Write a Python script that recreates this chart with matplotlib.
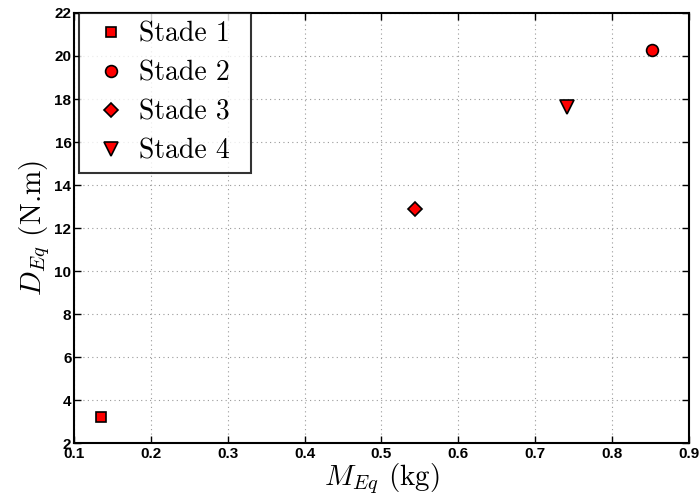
import matplotlib
matplotlib.use("Agg")
import matplotlib.pyplot as plt

plt.rcParams['mathtext.fontset'] = 'cm'

labels = ["Stade 1", "Stade 2", "Stade 3", "Stade 4"]
masse = [0.135, 0.852, 0.543, 0.742]
moment = [3.2, 20.3, 12.9, 17.65]
marqueurs = ["s", "o", "D", "v"]
tailles = [7, 8.5, 7, 10.5]

fig = plt.figure(figsize=(7, 4.98), dpi=100)
ax = fig.add_axes([0.106, 0.110, 0.878, 0.864])

for x, y, m, s, lab in zip(masse, moment, marqueurs, tailles, labels):
    ax.plot(x, y, linestyle="none", marker=m, markersize=s,
            markerfacecolor="red", markeredgecolor="black",
            markeredgewidth=1.2, label=lab)

ax.set_xlim(0.1, 0.9)
ax.set_ylim(2, 22)
ax.set_xticks([0.1, 0.2, 0.3, 0.4, 0.5, 0.6, 0.7, 0.8, 0.9])
ax.set_yticks(range(2, 23, 2))
ax.set_xticklabels(["0.1", "0.2", "0.3", "0.4", "0.5", "0.6", "0.7", "0.8", "0.9"])
ax.set_yticklabels([str(v) for v in range(2, 23, 2)])
for t in ax.get_xticklabels() + ax.get_yticklabels():
    t.set_fontweight("bold")
    t.set_fontsize(11)
    t.set_family("Liberation Sans")

ax.tick_params(direction="in", top=True, right=True, length=5, width=1, pad=3)
ax.tick_params(axis="y", pad=2)
ax.grid(True, linestyle=(0, (1, 3)), color="#999999", linewidth=0.8)
for sp in ax.spines.values():
    sp.set_linewidth(1.5)

ax.set_xlabel(r"$M_{Eq}$ (kg)", fontsize=21, family="cmr10", labelpad=0)
ax.set_ylabel(r"$D_{Eq}$ (N.m)", fontsize=21, family="cmr10", labelpad=2)

leg = ax.legend(loc="upper left", bbox_to_anchor=(0.0081, 1.0, 0.2797, 0.0),
                mode="expand", prop={"family": "cmr10", "size": 20},
                frameon=True, fancybox=False, edgecolor="black",
                borderaxespad=0.0, labelspacing=0.46, handletextpad=0.15,
                handlelength=1.7, borderpad=0.3)
leg.get_frame().set_linewidth(1.5)

fig.savefig("out.png", dpi=100)
